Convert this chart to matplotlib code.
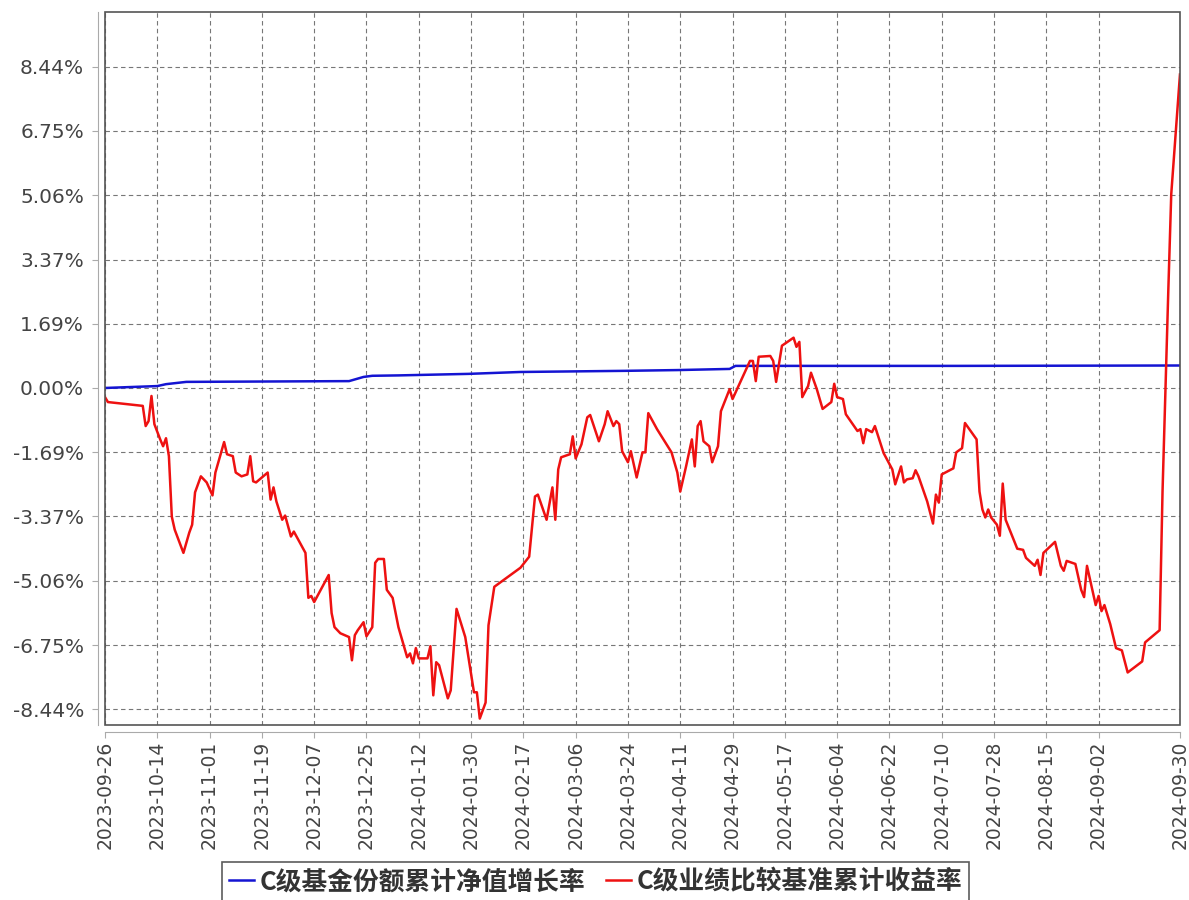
import matplotlib
matplotlib.use("Agg")
import matplotlib.pyplot as plt
from matplotlib.patches import Rectangle
import pandas as pd

# ------------ data ------------ #

# C级业绩比较基准累计收益率 (%)
red_dates = [
    "2023-09-26", "2023-09-27", "2023-10-09", "2023-10-10", "2023-10-11", "2023-10-12", "2023-10-13",
    "2023-10-15", "2023-10-16", "2023-10-17", "2023-10-18", "2023-10-19", "2023-10-20", "2023-10-23",
    "2023-10-25", "2023-10-26", "2023-10-27", "2023-10-29", "2023-10-31", "2023-11-02", "2023-11-03",
    "2023-11-06", "2023-11-07", "2023-11-09", "2023-11-10", "2023-11-12", "2023-11-14", "2023-11-15",
    "2023-11-16", "2023-11-17", "2023-11-21", "2023-11-22", "2023-11-23", "2023-11-24", "2023-11-26",
    "2023-11-27", "2023-11-29", "2023-11-30", "2023-12-04", "2023-12-05", "2023-12-06", "2023-12-07",
    "2023-12-12", "2023-12-13", "2023-12-14", "2023-12-16", "2023-12-19", "2023-12-20", "2023-12-21",
    "2023-12-22", "2023-12-24", "2023-12-25", "2023-12-27", "2023-12-28", "2023-12-29", "2023-12-31",
    "2024-01-01", "2024-01-03", "2024-01-05", "2024-01-08", "2024-01-09", "2024-01-10", "2024-01-11",
    "2024-01-12", "2024-01-15", "2024-01-16", "2024-01-17", "2024-01-18", "2024-01-19", "2024-01-22",
    "2024-01-23", "2024-01-25", "2024-01-28", "2024-01-31", "2024-02-01", "2024-02-02", "2024-02-04",
    "2024-02-05", "2024-02-07", "2024-02-16", "2024-02-19", "2024-02-21", "2024-02-22", "2024-02-25",
    "2024-02-27", "2024-02-28", "2024-02-29", "2024-03-01", "2024-03-04", "2024-03-05", "2024-03-06",
    "2024-03-08", "2024-03-10", "2024-03-11", "2024-03-14", "2024-03-16", "2024-03-17", "2024-03-19",
    "2024-03-20", "2024-03-21", "2024-03-22", "2024-03-24", "2024-03-25", "2024-03-27", "2024-03-29",
    "2024-03-30", "2024-03-31", "2024-04-03", "2024-04-08", "2024-04-10", "2024-04-11", "2024-04-13",
    "2024-04-15", "2024-04-16", "2024-04-17", "2024-04-18", "2024-04-19", "2024-04-21", "2024-04-22",
    "2024-04-24", "2024-04-25", "2024-04-28", "2024-04-29", "2024-05-05", "2024-05-06", "2024-05-07",
    "2024-05-08", "2024-05-12", "2024-05-13", "2024-05-14", "2024-05-16", "2024-05-20", "2024-05-21",
    "2024-05-22", "2024-05-23", "2024-05-25", "2024-05-26", "2024-05-28", "2024-05-30", "2024-06-02",
    "2024-06-03", "2024-06-04", "2024-06-06", "2024-06-07", "2024-06-11", "2024-06-12", "2024-06-13",
    "2024-06-14", "2024-06-16", "2024-06-17", "2024-06-20", "2024-06-23", "2024-06-24", "2024-06-26",
    "2024-06-27", "2024-06-28", "2024-06-30", "2024-07-01", "2024-07-02", "2024-07-05", "2024-07-07",
    "2024-07-08", "2024-07-09", "2024-07-10", "2024-07-12", "2024-07-14", "2024-07-15", "2024-07-17",
    "2024-07-18", "2024-07-22", "2024-07-23", "2024-07-24", "2024-07-25", "2024-07-26", "2024-07-27",
    "2024-07-29", "2024-07-30", "2024-07-31", "2024-08-01", "2024-08-05", "2024-08-07", "2024-08-08",
    "2024-08-11", "2024-08-12", "2024-08-13", "2024-08-14", "2024-08-18", "2024-08-20", "2024-08-21",
    "2024-08-22", "2024-08-25", "2024-08-27", "2024-08-28", "2024-08-29", "2024-08-31", "2024-09-01",
    "2024-09-02", "2024-09-03", "2024-09-04", "2024-09-06", "2024-09-08", "2024-09-10", "2024-09-12",
    "2024-09-17", "2024-09-18", "2024-09-23", "2024-09-24", "2024-09-26", "2024-09-27", "2024-09-30",
]
red_values = [
    -0.24, -0.37, -0.47, -1.00, -0.87, -0.21, -0.95,
    -1.35, -1.53, -1.32, -1.79, -3.38, -3.72, -4.33,
    -3.80, -3.59, -2.74, -2.32, -2.48, -2.82, -2.22,
    -1.42, -1.74, -1.79, -2.22, -2.32, -2.27, -1.79,
    -2.45, -2.48, -2.22, -2.93, -2.61, -2.98, -3.46,
    -3.35, -3.90, -3.77, -4.33, -5.51, -5.46, -5.62,
    -4.91, -5.91, -6.28, -6.44, -6.54, -7.15, -6.49,
    -6.36, -6.15, -6.52, -6.28, -4.59, -4.49, -4.49,
    -5.30, -5.51, -6.28, -7.07, -6.97, -7.23, -6.83,
    -7.10, -7.10, -6.78, -8.07, -7.20, -7.28, -8.15,
    -7.94, -5.80, -6.54, -7.99, -7.99, -8.68, -8.26,
    -6.23, -5.22, -4.72, -4.43, -2.85, -2.80, -3.46,
    -2.61, -3.46, -2.14, -1.82, -1.74, -1.27, -1.85,
    -1.48, -0.77, -0.71, -1.40, -0.95, -0.61, -1.00,
    -0.87, -0.95, -1.66, -1.95, -1.66, -2.35, -1.69,
    -1.69, -0.66, -1.08, -1.69, -2.22, -2.72, -2.06,
    -1.35, -2.06, -1.00, -0.87, -1.40, -1.53, -1.95,
    -1.53, -0.61, -0.03, -0.29, 0.71, 0.71, 0.18,
    0.82, 0.84, 0.71, 0.16, 1.11, 1.32, 1.08,
    1.21, -0.24, 0.05, 0.40, -0.03, -0.55, -0.37,
    0.11, -0.24, -0.29, -0.69, -1.13, -1.08, -1.45,
    -1.08, -1.16, -1.00, -1.71, -2.14, -2.53, -2.06,
    -2.48, -2.40, -2.37, -2.16, -2.32, -2.98, -3.56,
    -2.80, -3.01, -2.27, -2.19, -2.11, -1.69, -1.58,
    -0.92, -1.35, -2.72, -3.19, -3.40, -3.19, -3.40,
    -3.59, -3.88, -2.51, -3.46, -4.22, -4.25, -4.46,
    -4.67, -4.51, -4.91, -4.33, -4.04, -4.67, -4.80,
    -4.54, -4.62, -5.30, -5.49, -4.67, -5.36, -5.70,
    -5.46, -5.86, -5.70, -6.20, -6.83, -6.89, -7.47,
    -7.18, -6.68, -6.36, -2.72, 2.59, 5.09, 8.23,
]

# C级基金份额累计净值增长率 (%)
blue_dates = [
    "2023-09-26", "2023-10-14", "2023-10-17", "2023-10-24", "2023-12-19", "2023-12-24",
    "2023-12-27", "2024-01-05", "2024-01-29", "2024-02-16", "2024-03-23", "2024-04-10",
    "2024-04-28", "2024-04-30", "2024-07-16", "2024-09-30",
]
blue_values = [
    0.00, 0.05, 0.10, 0.16, 0.18, 0.29,
    0.32, 0.33, 0.37, 0.42, 0.45, 0.47,
    0.50, 0.58, 0.58, 0.59,
]

tick_dates = [
    "2023-09-26", "2023-10-14", "2023-11-01", "2023-11-19", "2023-12-07", "2023-12-25",
    "2024-01-12", "2024-01-30", "2024-02-17", "2024-03-06", "2024-03-24", "2024-04-11",
    "2024-04-29", "2024-05-17", "2024-06-04", "2024-06-22", "2024-07-10", "2024-07-28",
    "2024-08-15", "2024-09-02", "2024-09-30",
]
y_ticks = [-8.44, -6.75, -5.06, -3.37, -1.69, 0.00, 1.69, 3.37, 5.06, 6.75, 8.44]

blue_name = "C级基金份额累计净值增长率"
red_name = "C级业绩比较基准累计收益率"

# ------------ plot ------------ #

plt.rcParams["font.family"] = ["DejaVu Sans"]

fig = plt.figure(figsize=(11.89, 9.0), dpi=100)
ax = fig.add_axes([0.0883, 0.1944, 0.9041, 0.7922])

l1, = ax.plot(pd.to_datetime(blue_dates), blue_values, color="#1414d2", lw=1.8, zorder=3)
l2, = ax.plot(pd.to_datetime(red_dates), red_values, color="#ee1111", lw=1.8, zorder=3)

ax.set_xlim(pd.Timestamp("2023-09-26"), pd.Timestamp("2024-09-30"))
ax.set_ylim(-8.85, 9.87)

ax.set_xticks(pd.to_datetime(tick_dates))
ax.set_xticklabels(tick_dates)
ax.set_yticks(y_ticks)
ax.set_yticklabels(["%.2f%%" % v for v in y_ticks])

ax.grid(True, color="#777777", linestyle=(0, (4, 3)), linewidth=0.8, zorder=1)

# axis lines are pulled away from the plot box
for s in ["top", "right"]:
    ax.spines[s].set_visible(False)
for s in ["left", "bottom"]:
    ax.spines[s].set_position(("outward", 5))
    ax.spines[s].set_color("#aaaaaa")
ax.add_patch(Rectangle((0, 0), 1, 1, transform=ax.transAxes, fill=False,
                       edgecolor="#555555", lw=1.2, clip_on=False, zorder=5))

ax.tick_params(axis="y", colors="#aaaaaa", labelcolor="#444444", length=4, pad=6, labelsize=14.5)
ax.tick_params(axis="x", colors="#aaaaaa", labelcolor="#444444", length=4, pad=2, labelsize=13.5,
               labelrotation=90)

leg = fig.legend([l1, l2], [blue_name, red_name], loc="upper center",
                 bbox_to_anchor=(0.5008, 0.0422), ncol=2, frameon=True, fancybox=False,
                 edgecolor="#333333", labelcolor="#333333",
                 prop={"family": ["Noto Sans CJK SC", "DejaVu Sans"], "weight": "bold", "size": 18.5},
                 handlelength=1.0, handletextpad=0.2, columnspacing=0.8,
                 borderpad=0.25, borderaxespad=0)
leg.get_frame().set_linewidth(1.2)

plt.savefig("out.png", dpi=100, facecolor="white")
